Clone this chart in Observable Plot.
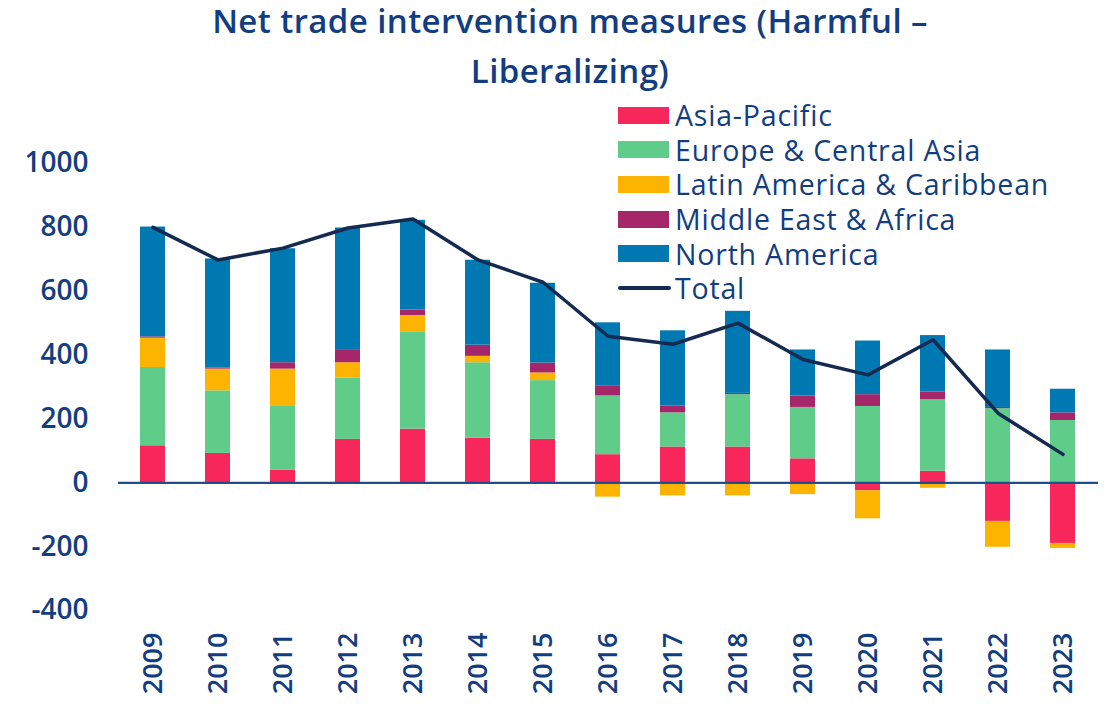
<!DOCTYPE html>
<html>
<head>
<meta charset="utf-8">
<script src="https://cdn.jsdelivr.net/npm/d3@7"></script>
<script src="https://cdn.jsdelivr.net/npm/@observablehq/plot@0.6"></script>
<style>
  body { margin: 0; background: #fff; }
  #wrap { position: relative; width: 1110px; height: 704px; font-family: "Open Sans", Lato, sans-serif; color: #123d80; }
  #title { height: 100px; text-align: center; font-size: 33px; font-weight: 600; letter-spacing: 0.4px; line-height: 50px; margin: 0; padding-left: 30px; box-sizing: border-box; overflow: visible; }
  #title div { position: relative; top: -4px; }
  #legend { position: absolute; left: 618px; top: 98px; font-size: 28.5px; letter-spacing: 0.8px; font-weight: 500; }
  .row { display: flex; align-items: center; height: 34.6px; }
  .sw { width: 51px; height: 17px; margin-right: 6px; flex: none; }
  .ln { width: 53px; height: 4px; background: #142a50; margin-right: 4px; border-radius: 2px; flex: none; }
</style>
</head>
<body>
<div id="wrap">
  <div id="title"><div>Net trade intervention measures (Harmful –<br>Liberalizing)</div></div>
  <div id="chart"></div>
  <div id="legend"></div>
</div>
<script>
const years = ["2009","2010","2011","2012","2013","2014","2015","2016","2017","2018","2019","2020","2021","2022","2023"];
const regions = ["Asia-Pacific","Europe & Central Asia","Latin America & Caribbean","Middle East & Africa","North America"];
const colors = ["#f7275c","#5fcd89","#fdb400","#a6266a","#0079b3"];
const asiaPacific   = [116, 92, 40, 136, 168, 140, 136, 88, 112, 112, 75, -25, 36, -121, -190];
const europeCentral = [245, 196, 199, 192, 305, 236, 184, 184, 107, 164, 161, 239, 224, 232, 195];
const latinAmerica  = [92, 68, 117, 48, 51, 20, 24, -45, -41, -41, -37, -88, -17, -81, -16];
const middleEast    = [4, 3, 20, 41, 17, 35, 31, 32, 21, 4, 36, 37, 24, 4, 24];
const northAmerica  = [344, 342, 357, 381, 281, 266, 250, 197, 236, 257, 144, 168, 177, 180, 74];
const total         = [800, 698, 735, 798, 826, 698, 628, 459, 434, 500, 386, 338, 448, 218, 89];
const yTicks = [-400, -200, 0, 200, 400, 600, 800, 1000];

const series = [asiaPacific, europeCentral, latinAmerica, middleEast, northAmerica];
const data = years.flatMap((yr, i) => regions.map((r, j) => ({year: yr, region: r, value: series[j][i]})));
const totalData = years.map((yr, i) => ({year: yr, value: total[i]}));

const textColor = "#123d80";
const chart = Plot.plot({
  width: 1110, height: 604,
  marginLeft: 118, marginRight: 12, marginTop: 63, marginBottom: 94,
  style: {fontFamily: "'Open Sans', Lato, sans-serif", color: textColor, background: "transparent"},
  x: {domain: years, paddingInner: 0.61, paddingOuter: 0.32, label: null},
  y: {domain: [-400, 1000], label: null},
  color: {domain: regions, range: colors},
  marks: [
    Plot.barY(data, {x: "year", y: "value", fill: "region", order: regions}),
    Plot.ruleY([0], {stroke: "#1f4e8c", strokeWidth: 2.2}),
    Plot.line(totalData, {x: "year", y: "value", stroke: "#142a50", strokeWidth: 3.5}),
    Plot.axisY(yTicks, {tickSize: 0, tickPadding: 30, fontSize: 28, fontWeight: 600, label: null, tickFormat: d => String(d)}),
    Plot.axisX({tickSize: 0, tickPadding: 22, tickRotate: -90, fontSize: 27, fontWeight: 600, label: null})
  ]
});
document.getElementById("chart").appendChild(chart);

const legend = document.getElementById("legend");
regions.forEach((r, j) => {
  const row = document.createElement("div");
  row.className = "row";
  row.innerHTML = `<div class="sw" style="background:${colors[j]}"></div><span>${r}</span>`;
  legend.appendChild(row);
});
const trow = document.createElement("div");
trow.className = "row";
trow.innerHTML = `<div class="ln"></div><span>Total</span>`;
legend.appendChild(trow);
</script>
</body>
</html>
